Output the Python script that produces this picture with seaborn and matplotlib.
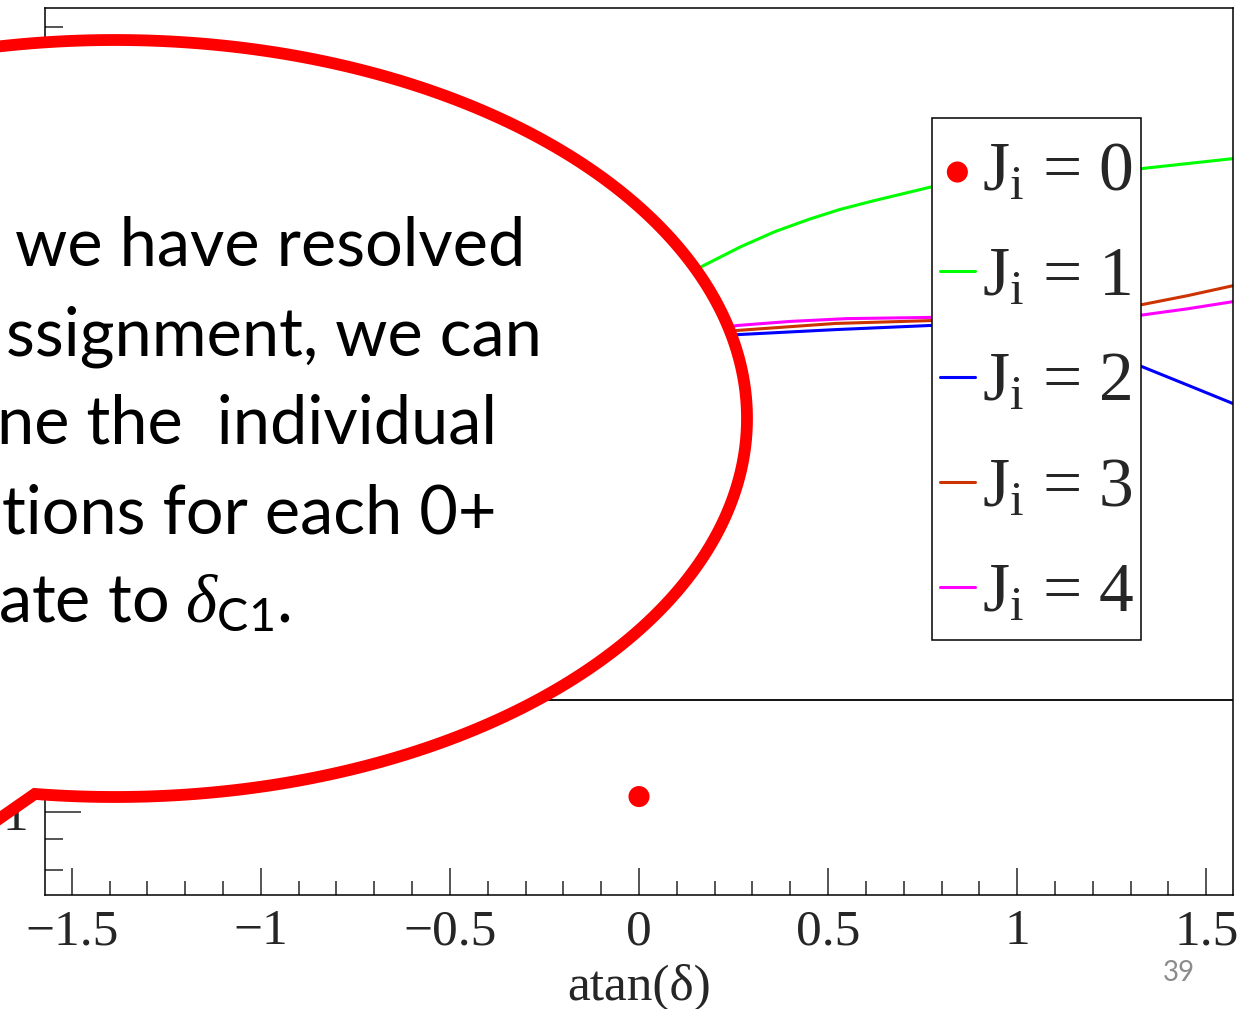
import numpy as np
import pandas as pd
import matplotlib
matplotlib.use("Agg")
import matplotlib.pyplot as plt
import seaborn as sns
from matplotlib.patches import Polygon, Rectangle
from matplotlib.ticker import LogLocator, MultipleLocator, NullFormatter, FuncFormatter

# values
labels = ["0", "1", "2", "3", "4"]
colors = ["#ff0000", "#00ff00", "#0000ff", "#cc3300", "#ff00ff"]

j0_x = [0.0]
j0_y = [1.06]

j1_x = [0.10, 0.17, 0.27, 0.36, 0.45, 0.53, 0.62, 0.77, 1.00, 1.20, 1.33, 1.571]
j1_y = [7.6, 8.04, 8.65, 9.16, 9.60, 9.96, 10.30, 10.85, 11.25, 11.5, 11.65, 12.1]
j2_x = [0.20, 0.26, 0.52, 0.77, 0.90, 1.05, 1.20, 1.33, 1.45, 1.571]
j2_y = [6.10, 6.18, 6.30, 6.40, 6.38, 6.20, 5.85, 5.47, 5.10, 4.75]
j3_x = [0.20, 0.26, 0.52, 0.77, 1.00, 1.20, 1.33, 1.45, 1.571]
j3_y = [6.22, 6.28, 6.45, 6.52, 6.66, 6.80, 6.93, 7.17, 7.45]
j4_x = [0.20, 0.26, 0.40, 0.55, 0.77, 1.00, 1.20, 1.33, 1.45, 1.571]
j4_y = [6.30, 6.40, 6.50, 6.57, 6.60, 6.60, 6.61, 6.66, 6.82, 7.01]

hline_y = 1.53
xlim = (-1.5708, 1.5708)
ylim = (0.728, 21.5)

bubble_lines = ["we have resolved", "ssignment, we can", "ne the  individual",
                "tions for each 0+", r"ate to $\delta_{\mathsf{C1}}$."]

# %%
sns.set_style("ticks")
plt.rcParams["font.family"] = ["Liberation Serif", "DejaVu Sans"]
plt.rcParams["mathtext.fontset"] = "custom"
plt.rcParams["mathtext.rm"] = "Liberation Serif"
plt.rcParams["mathtext.it"] = "Liberation Serif:italic"
plt.rcParams["mathtext.sf"] = "Lato"
plt.rcParams["axes.linewidth"] = 1.1
plt.rcParams["axes.edgecolor"] = "black"

W, H = 1255, 1009
fig = plt.figure(figsize=(W / 100, H / 100), dpi=100)
ax = fig.add_axes([45 / W, 1 - 895 / H, (1233 - 45) / W, (895 - 8) / H])

def fx(px):
    return px / W

def fy(py):
    return 1 - py / H

sns.scatterplot(x=j0_x, y=j0_y, color=colors[0], s=230, edgecolor="none",
                label=r"$\mathrm{J_i}$ = 0", ax=ax, zorder=3)
series = [(j1_x, j1_y), (j2_x, j2_y), (j3_x, j3_y), (j4_x, j4_y)]
for (xs, ys), c, lab in zip(series, colors[1:], labels[1:]):
    sns.lineplot(x=xs, y=ys, color=c, lw=2.2, estimator=None, sort=False,
                 label=r"$\mathrm{J_i}$ = %s" % lab, ax=ax)
ax.axhline(hline_y, color="black", lw=1.3)

ax.set_yscale("log")
ax.set_xlim(xlim)
ax.set_ylim(ylim)
ax.xaxis.set_major_locator(MultipleLocator(0.5))
ax.xaxis.set_minor_locator(MultipleLocator(0.1))
ax.yaxis.set_major_locator(LogLocator(base=10))
ax.yaxis.set_minor_locator(LogLocator(base=10, subs=np.arange(2, 10)))
ax.yaxis.set_major_formatter(FuncFormatter(lambda v, p: f"{v:g}"))
ax.yaxis.set_minor_formatter(NullFormatter())
ax.xaxis.set_major_formatter(FuncFormatter(lambda v, p: f"{v:g}".replace("-", "\u2212")))
ax.tick_params(axis="x", which="major", direction="in", length=19.5, width=1.1,
               labelsize=37, pad=10)
ax.tick_params(axis="x", which="minor", direction="in", length=10, width=1.1)
ax.tick_params(axis="y", which="major", direction="in", length=26, width=1.1,
               labelsize=37, pad=12)
ax.tick_params(axis="y", which="minor", direction="in", length=13, width=1.1)
ax.set_xlabel("atan(\u03b4)", fontsize=37, labelpad=6)
ax.set_ylabel("")

# legend box
ax.add_patch(Rectangle(((932 - 45) / 1188, (895 - 640) / 887), (1141 - 932) / 1188,
                       (640 - 118) / 887, transform=ax.transAxes, facecolor="white",
                       edgecolor="black", lw=1.1, zorder=4))
handles, labs = ax.get_legend_handles_labels()
leg = ax.legend(handles, labs, loc="center left",
                bbox_to_anchor=((940 - 45) / 1188, (895 - 384) / 887),
                borderaxespad=0, borderpad=0, frameon=False,
                prop={"family": "Liberation Serif", "size": 50},
                handlelength=0.5, handletextpad=0.1, labelspacing=0.6)
leg.set_zorder(5)

# speech bubble
cx, cy, a, b = 115, 418.5, 632, 378.5
t0 = 1.698
th = np.linspace(t0, t0 - 2 * np.pi + 1.2, 400)
pts = [(fx(cx + a * np.cos(t)), fy(cy + b * np.sin(t))) for t in th]
pts.append((fx(-60), fy(860)))
bubble = Polygon(pts, closed=True, transform=fig.transFigure, facecolor="white",
                 edgecolor="#ff0000", lw=8.5, joinstyle="miter", zorder=5)
fig.add_artist(bubble)

rights = [525, 542, 497, 497, 291]
bases = [265, 355, 443, 533, 622]
for s, r, bl in zip(bubble_lines, rights, bases):
    fig.text(fx(r), fy(bl), s, ha="right", va="baseline", fontsize=48,
             family="Lato", color="black", zorder=6)

fig.text(fx(1179), fy(973), "39", ha="center", va="center", fontsize=20,
         family="Lato", color="#8c8c8c")

fig.savefig("out.png", dpi=100)
